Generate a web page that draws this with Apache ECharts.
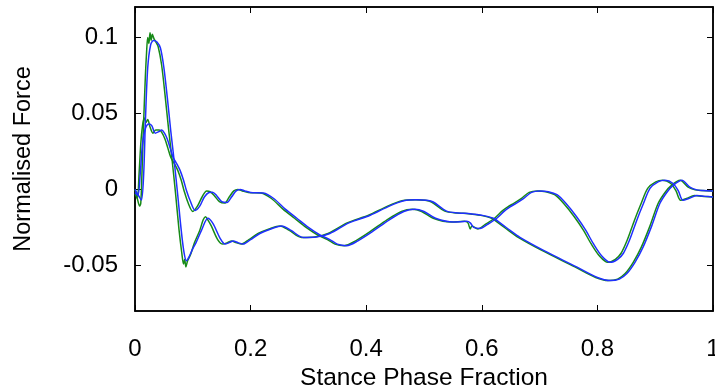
<!DOCTYPE html>
<html>
<head>
<meta charset="utf-8">
<script src="https://cdn.jsdelivr.net/npm/echarts@6/dist/echarts.min.js"></script>
<style>
html, body { margin: 0; padding: 0; background: #fff; }
#chart { width: 715px; height: 387px; }
</style>
</head>
<body>
<div id="chart"></div>
<script>
// curve A (big early peak), blue
var blueAx = [0, 0.006, 0.011, 0.015, 0.018, 0.022, 0.027, 0.032, 0.038, 0.044, 0.05, 0.056, 0.062, 0.068, 0.074, 0.08, 0.085, 0.089, 0.094, 0.1, 0.106, 0.115, 0.126, 0.135, 0.147, 0.156, 0.163, 0.17, 0.178, 0.187, 0.2, 0.216, 0.235, 0.254, 0.27, 0.291, 0.314, 0.337, 0.37, 0.407, 0.44, 0.465, 0.487, 0.505, 0.516, 0.539, 0.56, 0.58, 0.6, 0.62, 0.635, 0.649, 0.666, 0.706, 0.764, 0.8, 0.822, 0.838, 0.851, 0.865, 0.879, 0.894, 0.908, 0.92, 0.931, 0.946, 0.96, 0.972, 0.983, 1];
var blueAy = [0, -0.004, -0.007, 0.01, 0.045, 0.08, 0.095, 0.098, 0.097, 0.093, 0.08, 0.06, 0.038, 0.018, -0.004, -0.027, -0.042, -0.047, -0.044, -0.039, -0.0347, -0.027, -0.019, -0.0225, -0.032, -0.036, -0.035, -0.034, -0.035, -0.036, -0.033, -0.029, -0.026, -0.024, -0.027, -0.0316, -0.0313, -0.029, -0.022, -0.017, -0.011, -0.0075, -0.0068, -0.0072, -0.0083, -0.0143, -0.0155, -0.016, -0.017, -0.019, -0.023, -0.027, -0.0316, -0.04, -0.051, -0.058, -0.06, -0.059, -0.0554, -0.048, -0.038, -0.024, -0.0093, -0.002, 0.0026, 0.006, 0.0015, -0.0003, -0.0007, -0.001];

// curve B (small early peak), blue
var blueBx = [0, 0.005, 0.009, 0.013, 0.018, 0.024, 0.029, 0.035, 0.041, 0.046, 0.051, 0.056, 0.061, 0.066, 0.072, 0.078, 0.084, 0.089, 0.096, 0.104, 0.112, 0.12, 0.128, 0.134, 0.141, 0.15, 0.159, 0.167, 0.175, 0.182, 0.19, 0.2, 0.222, 0.24, 0.26, 0.28, 0.3, 0.32, 0.337, 0.35, 0.366, 0.385, 0.41, 0.44, 0.465, 0.484, 0.5, 0.52, 0.551, 0.574, 0.58, 0.586, 0.597, 0.61, 0.626, 0.64, 0.649, 0.66, 0.672, 0.686, 0.7, 0.715, 0.73, 0.745, 0.764, 0.78, 0.793, 0.808, 0.822, 0.835, 0.845, 0.856, 0.868, 0.88, 0.891, 0.905, 0.917, 0.931, 0.94, 0.948, 0.958, 0.972, 0.985, 1];
var blueBy = [-0.002, -0.004, 0.01, 0.03, 0.04, 0.043, 0.042, 0.037, 0.038, 0.039, 0.037, 0.033, 0.027, 0.021, 0.017, 0.0125, 0.006, -0.0007, -0.008, -0.0138, -0.011, -0.005, -0.002, -0.0018, -0.004, -0.008, -0.0086, -0.005, -0.001, 0, -0.001, -0.002, -0.0024, -0.006, -0.013, -0.019, -0.025, -0.03, -0.033, -0.036, -0.037, -0.034, -0.028, -0.02, -0.0145, -0.013, -0.0145, -0.019, -0.0215, -0.021, -0.022, -0.025, -0.0257, -0.023, -0.019, -0.014, -0.0115, -0.009, -0.006, -0.002, -0.001, -0.0015, -0.0035, -0.009, -0.018, -0.027, -0.0357, -0.044, -0.048, -0.046, -0.042, -0.033, -0.0204, -0.009, 0.0007, 0.005, 0.006, 0.0039, -0.001, -0.0072, -0.006, -0.004, -0.0045, -0.005];

// curve A, green (noisy)
var greenAx = [0, 0.004, 0.008, 0.01, 0.012, 0.015, 0.018, 0.02, 0.022, 0.024, 0.026, 0.028, 0.03, 0.033, 0.036, 0.04, 0.046, 0.052, 0.058, 0.064, 0.07, 0.076, 0.081, 0.084, 0.086, 0.088, 0.091, 0.096, 0.103, 0.112, 0.118, 0.122, 0.126, 0.132, 0.143, 0.152, 0.16, 0.167, 0.175, 0.184, 0.197, 0.213, 0.232, 0.251, 0.267, 0.288, 0.311, 0.334, 0.367, 0.404, 0.437, 0.462, 0.484, 0.502, 0.513, 0.536, 0.557, 0.577, 0.597, 0.617, 0.632, 0.646, 0.663, 0.703, 0.761, 0.797, 0.819, 0.835, 0.848, 0.862, 0.876, 0.891, 0.905, 0.917, 0.928, 0.943, 0.957, 0.969, 0.98, 1];
var greenAy = [0, -0.006, -0.011, -0.009, 0.01, 0.045, 0.075, 0.09, 0.1, 0.096, 0.103, 0.098, 0.102, 0.099, 0.097, 0.094, 0.082, 0.062, 0.04, 0.02, -0.002, -0.026, -0.042, -0.049, -0.046, -0.051, -0.047, -0.043, -0.035, -0.027, -0.02, -0.018, -0.02, -0.024, -0.033, -0.036, -0.035, -0.034, -0.035, -0.036, -0.033, -0.029, -0.026, -0.024, -0.027, -0.0316, -0.0313, -0.029, -0.022, -0.017, -0.011, -0.0075, -0.0068, -0.0072, -0.0083, -0.0143, -0.0155, -0.016, -0.017, -0.019, -0.023, -0.027, -0.0316, -0.04, -0.051, -0.058, -0.06, -0.059, -0.0554, -0.048, -0.038, -0.024, -0.0093, -0.002, 0.0026, 0.006, 0.0015, -0.0003, -0.0007, -0.001];

// curve B, green (noisy)
var greenBx = [0, 0.004, 0.007, 0.01, 0.013, 0.016, 0.019, 0.022, 0.026, 0.031, 0.036, 0.042, 0.047, 0.052, 0.057, 0.062, 0.068, 0.074, 0.08, 0.085, 0.092, 0.1, 0.108, 0.116, 0.124, 0.13, 0.137, 0.146, 0.155, 0.163, 0.171, 0.178, 0.186, 0.196, 0.218, 0.236, 0.256, 0.276, 0.296, 0.316, 0.333, 0.346, 0.362, 0.381, 0.406, 0.436, 0.461, 0.48, 0.496, 0.516, 0.547, 0.57, 0.576, 0.58, 0.583, 0.593, 0.606, 0.622, 0.636, 0.645, 0.656, 0.668, 0.682, 0.696, 0.711, 0.726, 0.741, 0.76, 0.776, 0.789, 0.804, 0.818, 0.831, 0.841, 0.852, 0.864, 0.876, 0.887, 0.901, 0.913, 0.927, 0.936, 0.944, 0.954, 0.968, 0.981, 1];
var greenBy = [-0.003, -0.006, 0.01, 0.03, 0.042, 0.047, 0.044, 0.046, 0.041, 0.037, 0.039, 0.039, 0.037, 0.033, 0.027, 0.021, 0.017, 0.0125, 0.006, -0.001, -0.009, -0.0145, -0.011, -0.005, -0.001, -0.0015, -0.004, -0.008, -0.009, -0.005, -0.001, 0, -0.001, -0.002, -0.0024, -0.006, -0.013, -0.019, -0.025, -0.03, -0.033, -0.036, -0.037, -0.034, -0.028, -0.02, -0.0145, -0.013, -0.0145, -0.019, -0.0215, -0.021, -0.022, -0.026, -0.024, -0.026, -0.023, -0.019, -0.014, -0.0115, -0.009, -0.006, -0.002, -0.001, -0.0015, -0.0035, -0.009, -0.018, -0.027, -0.0357, -0.044, -0.048, -0.046, -0.042, -0.033, -0.0204, -0.009, 0.0007, 0.005, 0.006, 0.0039, -0.001, -0.0072, -0.006, -0.004, -0.0045, -0.005];

var yTicks = [-0.05, 0, 0.05, 0.1];

function pairs(xs, ys) {
	return xs.map(function(x, i) { return [x, ys[i]]; });
}

function curve(name, xs, ys, color) {
	return {
		name: name,
		type: 'line',
		data: pairs(xs, ys),
		showSymbol: false,
		smooth: 0.3,
		lineStyle: { width: 1.5, color: color }
	};
}

var font = 'Liberation Sans, Arial, sans-serif';

// each axis gets its own fresh style objects
function axisLine() {
	return { show: true, onZero: false, lineStyle: { color: '#000', width: 1.5 } };
}
function axisTick(values) {
	var t = { show: true, inside: true, length: 6, lineStyle: { color: '#000' } };
	if (values) t.customValues = values;
	return t;
}

var option = {
	animation: false,
	grid: {
		left: 135, right: 2, top: 7, bottom: 76,
		outerBoundsMode: 'none',
		show: true, borderColor: '#000', borderWidth: 1.5, backgroundColor: 'transparent'
	},
	xAxis: [{
		type: 'value', min: 0, max: 1, interval: 0.2,
		position: 'bottom',
		name: 'Stance Phase Fraction', nameLocation: 'middle', nameGap: 52,
		nameTextStyle: { fontSize: 24.5, color: '#000', fontFamily: font },
		axisLine: axisLine(),
		axisTick: axisTick(),
		axisLabel: { fontSize: 24, color: '#000', fontFamily: font, margin: 26 },
		splitLine: { show: false }
	}, {
		type: 'value', min: 0, max: 1, interval: 0.2,
		position: 'top',
		axisLine: axisLine(),
		axisTick: axisTick(),
		axisLabel: { show: false },
		splitLine: { show: false }
	}],
	yAxis: [{
		type: 'value', min: -0.08, max: 0.12,
		position: 'left',
		name: 'Normalised Force', nameLocation: 'middle', nameGap: 99,
		nameTextStyle: { fontSize: 23.5, color: '#000', fontFamily: font },
		axisLine: axisLine(),
		axisTick: axisTick(yTicks),
		axisLabel: { fontSize: 24, color: '#000', fontFamily: font, margin: 17, customValues: yTicks },
		splitLine: { show: false }
	}, {
		type: 'value', min: -0.08, max: 0.12,
		position: 'right',
		axisLine: axisLine(),
		axisTick: axisTick(yTicks),
		axisLabel: { show: false, customValues: yTicks },
		splitLine: { show: false }
	}],
	series: [
		curve('green A', greenAx, greenAy, '#178a17'),
		curve('green B', greenBx, greenBy, '#178a17'),
		curve('blue A', blueAx, blueAy, '#1f2fff'),
		curve('blue B', blueBx, blueBy, '#1f2fff')
	]
};

var chart = echarts.init(document.getElementById('chart'));
chart.setOption(option);
</script>
</body>
</html>
